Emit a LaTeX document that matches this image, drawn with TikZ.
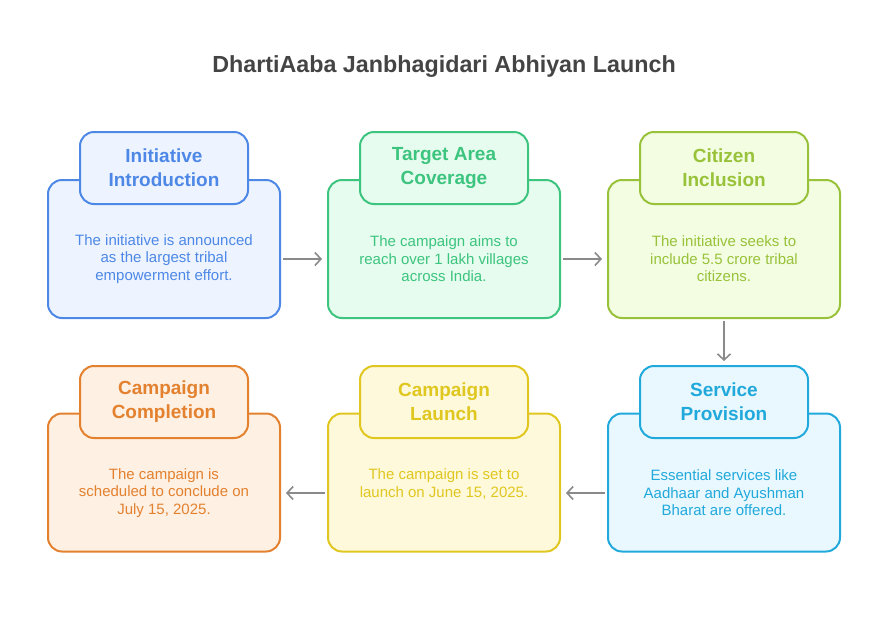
\documentclass[tikz,border=0pt]{standalone}
\usepackage{fontspec}
\setmainfont{Liberation Sans}
\usetikzlibrary{arrows.meta}
\definecolor{titlegray}{HTML}{444444}
\definecolor{arrowgray}{HTML}{8A8A8A}
\definecolor{blueline}{HTML}{4D88E6}
\definecolor{bluefill}{HTML}{EEF4FF}
\definecolor{greenline}{HTML}{3DC47E}
\definecolor{greenfill}{HTML}{E5FCEF}
\definecolor{limeline}{HTML}{98C23A}
\definecolor{limefill}{HTML}{F3FDE1}
\definecolor{cyanline}{HTML}{22A9DC}
\definecolor{cyanfill}{HTML}{E8F8FE}
\definecolor{yellowline}{HTML}{E0C720}
\definecolor{yellowfill}{HTML}{FEF9DA}
\definecolor{orangeline}{HTML}{E3812F}
\definecolor{orangefill}{HTML}{FEF0E3}
\begin{document}
\begin{tikzpicture}[
    x=1pt, y=-1pt,
    box/.style={draw, rounded corners=14pt, line width=2pt, minimum width=232pt, minimum height=138pt},
    tab/.style={draw, rounded corners=14pt, line width=2pt, minimum width=168pt, minimum height=72pt,
        align=center, font=\fontsize{19}{24}\selectfont\bfseries},
    txt/.style={align=center, font=\fontsize{15}{17.5}\selectfont},
    blue/.style={draw=blueline, fill=bluefill, text=blueline},
    green/.style={draw=greenline, fill=greenfill, text=greenline},
    lime/.style={draw=limeline, fill=limefill, text=limeline},
    cyan/.style={draw=cyanline, fill=cyanfill, text=cyanline},
    yellow/.style={draw=yellowline, fill=yellowfill, text=yellowline},
    orange/.style={draw=orangeline, fill=orangefill, text=orangeline},
    flow/.style={draw=arrowgray, line width=1.6pt, -{Straight Barb[length=6pt,width=13pt]},
        shorten <=2pt, shorten >=5pt}
]
    \useasboundingbox (0,0) rectangle (888,625);

    % Title
    \node[text=titlegray, font=\fontsize{23.3}{28}\selectfont\bfseries] (title) at (444,67)
        {DhartiAaba Janbhagidari Abhiyan Launch};

    % Top row
    \node[box, blue] (intro) at (164,249) {};
    \node[tab, blue] (introtab) at (164,168) {Initiative\\Introduction};
    \node[txt, text=blueline] (introtxt) at (164,259)
        {The initiative is announced\\as the largest tribal\\empowerment effort.};

    \node[box, green] (target) at (444,249) {};
    \node[tab, green] (targettab) at (444,168) {Target Area\\Coverage};
    \node[txt, text=greenline] (targettxt) at (444,259)
        {The campaign aims to\\reach over 1 lakh villages\\across India.};

    \node[box, lime] (citizen) at (724,249) {};
    \node[tab, lime] (citizentab) at (724,168) {Citizen\\Inclusion};
    \node[txt, text=limeline] (citizentxt) at (724,259)
        {The initiative seeks to\\include 5.5 crore tribal\\citizens.};

    % Bottom row
    \node[box, cyan] (service) at (724,482.5) {};
    \node[tab, cyan] (servicetab) at (724,402) {Service\\Provision};
    \node[txt, text=cyanline] (servicetxt) at (724,493)
        {Essential services like\\Aadhaar and Ayushman\\Bharat are offered.};

    \node[box, yellow] (launch) at (444,482.5) {};
    \node[tab, yellow] (launchtab) at (444,402) {Campaign\\Launch};
    \node[txt, text=yellowline] (launchtxt) at (444,484)
        {The campaign is set to\\launch on June 15, 2025.};

    \node[box, orange] (finish) at (164,482.5) {};
    \node[tab, orange] (finishtab) at (164,402) {Campaign\\Completion};
    \node[txt, text=orangeline] (finishtxt) at (164,493)
        {The campaign is\\scheduled to conclude on\\July 15, 2025.};

    % Connectors
    \draw[flow] (intro.east |- introtxt) -- (target.west |- introtxt);
    \draw[flow] (target.east |- targettxt) -- (citizen.west |- targettxt);
    \draw[flow] (citizen.south) -- ([yshift=-1pt]servicetab.north);
    \draw[flow] (service.west |- servicetxt) -- (launch.east |- servicetxt);
    \draw[flow] (launch.west |- finishtxt) -- (finish.east |- finishtxt);
\end{tikzpicture}
\end{document}
